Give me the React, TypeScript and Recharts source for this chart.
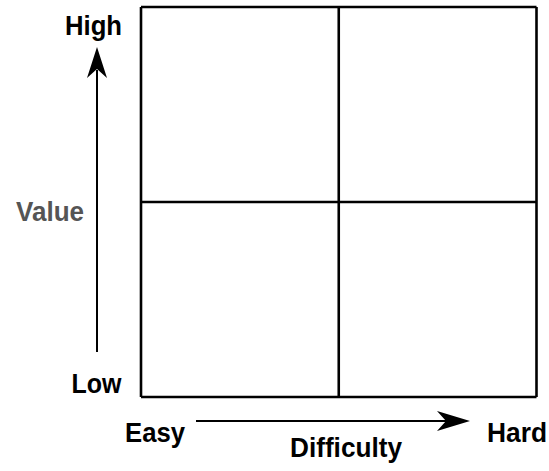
import React from "react";
import { ComposedChart, XAxis, YAxis, ReferenceLine, Customized } from "recharts";

const xTicks = [0, 1, 2];
const yTicks = [0, 1, 2];
const quadrants = [
  { x: 0.5, y: 1.5, name: "Q1" },
  { x: 1.5, y: 1.5, name: "Q2" },
  { x: 0.5, y: 0.5, name: "Q3" },
  { x: 1.5, y: 0.5, name: "Q4" },
];
const yLabels = { high: "High", low: "Low", title: "Value" };
const xLabels = { easy: "Easy", hard: "Hard", title: "Difficulty" };

const W = 549;
const H = 471;
const M = { top: 7, right: 12.5, bottom: 74, left: 141 };
const FONT = "'Liberation Sans', Arial, Helvetica, sans-serif";

const Decor = () => {
  const fs = 27;
  const common = {
    fontFamily: FONT,
    fontWeight: 700,
    fontSize: fs,
    textAnchor: "middle" as const,
    lengthAdjust: "spacingAndGlyphs" as const,
  };
  return (
    <g>
      {/* vertical arrow */}
      <line x1={97} y1={352} x2={97} y2={70} stroke="#000" strokeWidth={2} />
      <path d="M97,47 L107,78 L97,69 L87,78 Z" fill="#000" />
      {/* horizontal arrow */}
      <line x1={196} y1={421} x2={450} y2={421} stroke="#000" strokeWidth={2} />
      <path d="M470,421 L437,411 L446,421 L437,431 Z" fill="#000" />
      <text x={93.5} y={35} textLength={57} {...common} fill="#000">{yLabels.high}</text>
      <text x={96.5} y={393} textLength={50} {...common} fill="#000">{yLabels.low}</text>
      <text x={50} y={221} textLength={68} {...common} fill="#555">{yLabels.title}</text>
      <text x={155} y={442} textLength={60} {...common} fill="#000">{xLabels.easy}</text>
      <text x={517} y={442} textLength={60} {...common} fill="#000">{xLabels.hard}</text>
      <text x={346} y={457} textLength={112} {...common} fill="#000">{xLabels.title}</text>
    </g>
  );
};

export default function App() {
  return (
    <div style={{ position: "absolute", left: 0, top: 0, width: W, height: H, background: "#fff" }}>
      <ComposedChart width={W} height={H} data={quadrants} margin={M}>
        <XAxis type="number" dataKey="x" domain={[0, 2]} ticks={xTicks} hide />
        <YAxis type="number" dataKey="y" domain={[0, 2]} ticks={yTicks} hide />
        {xTicks.map((t) => (
          <ReferenceLine key={"x" + t} x={t} stroke="#000" strokeWidth={2.6} ifOverflow="visible" />
        ))}
        {yTicks.map((t) => (
          <ReferenceLine key={"y" + t} y={t} stroke="#000" strokeWidth={2.6} ifOverflow="visible" />
        ))}
        <Customized component={<Decor />} />
      </ComposedChart>
    </div>
  );
}
